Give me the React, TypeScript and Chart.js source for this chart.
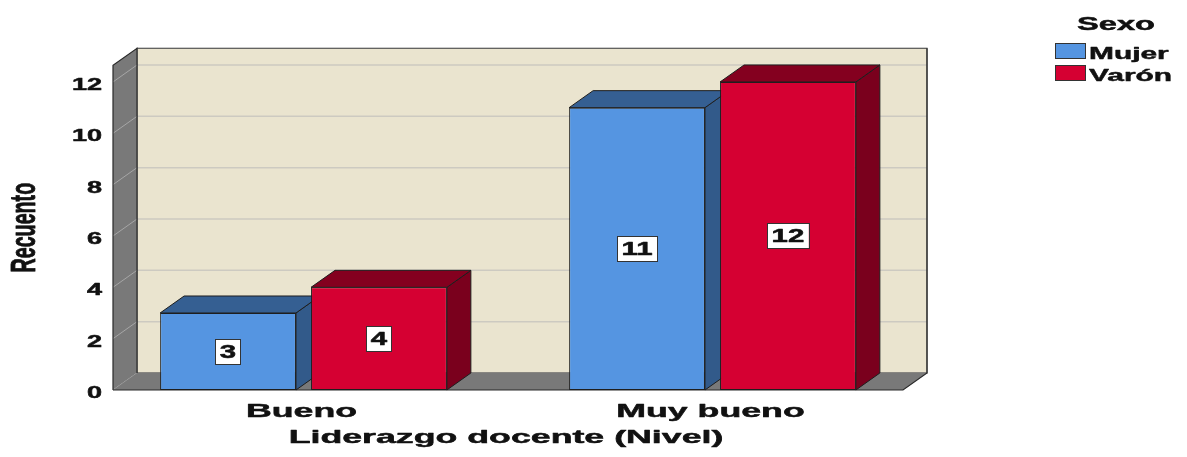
import React, { useEffect, useRef } from 'react';
import { Chart, registerables } from 'chart.js';

Chart.register(...registerables);

// ---- data ----
const categories = ['Bueno', 'Muy bueno'];
const seriesNames = ['Mujer', 'Varón'];
const mujerValues = [3, 11];
const varonValues = [4, 12];
const yTickStep = 2;
const yAxisMax = 12.65;
const xAxisTitle = 'Liderazgo docente (Nivel)';
const yAxisTitle = 'Recuento';
const legendTitle = 'Sexo';

// ---- styling ----
const FONT = '"Liberation Sans", Arial, sans-serif';
const DX = 24;
const DY = -17;
const INSET = 14;
const FRONT = ['#5595e1', '#d50032'];
const TOP = ['#355f92', '#84001f'];
const SIDE = ['#325a8a', '#7a001d'];
const EDGE = '#1e1e1e';
const TEXT = '#111111';

function stretchText(
  ctx: CanvasRenderingContext2D,
  text: string,
  x: number,
  y: number,
  size: number,
  sx: number,
  align: CanvasTextAlign,
  baseline: CanvasTextBaseline = 'alphabetic',
  rotate = false
) {
  ctx.save();
  ctx.translate(x, y);
  ctx.scale(sx, 1);
  if (rotate) ctx.rotate(-Math.PI / 2);
  ctx.font = `bold ${size}px ${FONT}`;
  ctx.fillStyle = TEXT;
  ctx.strokeStyle = TEXT;
  ctx.lineWidth = 0.5;
  ctx.lineJoin = 'round';
  ctx.textAlign = align;
  ctx.textBaseline = baseline;
  ctx.fillText(text, 0, 0);
  ctx.strokeText(text, 0, 0);
  ctx.restore();
}

function poly(ctx: CanvasRenderingContext2D, pts: number[][], fill: string, stroke: string | null) {
  ctx.beginPath();
  ctx.moveTo(pts[0][0], pts[0][1]);
  for (let i = 1; i < pts.length; i++) ctx.lineTo(pts[i][0], pts[i][1]);
  ctx.closePath();
  ctx.fillStyle = fill;
  ctx.fill();
  if (stroke) {
    ctx.strokeStyle = stroke;
    ctx.lineWidth = 1;
    ctx.stroke();
  }
}

const threeD = {
  id: 'threeD',
  beforeDatasetsDraw(chart: any) {
    const { ctx, chartArea: ca } = chart;
    const y = chart.scales.y;
    const L = ca.left + INSET;
    const R = ca.right - INSET;
    const B = y.getPixelForValue(0);
    const T = ca.top;
    ctx.save();
    // back wall
    poly(ctx, [[L + DX, T + DY], [R + DX, T + DY], [R + DX, B + DY], [L + DX, B + DY]], '#eae4cf', null);
    ctx.strokeStyle = '#cdcac1';
    ctx.lineWidth = 1.5;
    for (const t of y.ticks) {
      const yy = y.getPixelForValue(t.value);
      ctx.beginPath();
      ctx.moveTo(L + DX, yy + DY);
      ctx.lineTo(R + DX, yy + DY);
      ctx.stroke();
    }
    ctx.strokeStyle = '#555';
    ctx.lineWidth = 1.2;
    ctx.strokeRect(L + DX, T + DY, R - L, B - T);
    // left wall
    poly(ctx, [[L, B], [L, T], [L + DX, T + DY], [L + DX, B + DY]], '#797979', null);
    ctx.strokeStyle = '#a6a6a6';
    ctx.lineWidth = 1;
    for (const t of y.ticks) {
      const yy = y.getPixelForValue(t.value);
      ctx.beginPath();
      ctx.moveTo(L, yy);
      ctx.lineTo(L + DX, yy + DY);
      ctx.stroke();
    }
    // floor
    poly(ctx, [[L, B], [R, B], [R + DX, B + DY], [L + DX, B + DY]], '#797979', null);
    // outlines
    ctx.strokeStyle = '#2a2a2a';
    ctx.lineWidth = 1.2;
    ctx.beginPath();
    ctx.moveTo(L, B);
    ctx.lineTo(L, T);
    ctx.lineTo(L + DX, T + DY);
    ctx.lineTo(L + DX, B + DY);
    ctx.moveTo(L, B);
    ctx.lineTo(R, B);
    ctx.lineTo(R + DX, B + DY);
    ctx.lineTo(R + DX, T + DY);
    ctx.stroke();

    // 3D faces of bars (drawn before the fronts)
    const bars: any[] = [];
    chart.data.datasets.forEach((_: any, di: number) => {
      const meta = chart.getDatasetMeta(di);
      meta.data.forEach((el: any) => bars.push({ el, di }));
    });
    bars.sort((a, b) => a.el.x - b.el.x);
    for (const { el, di } of bars) {
      const p = el.getProps(['x', 'y', 'base', 'width'], true);
      const x0 = p.x - p.width / 2;
      const x1 = p.x + p.width / 2;
      const top = p.y;
      const base = p.base;
      poly(ctx, [[x1, top], [x1 + DX, top + DY], [x1 + DX, base + DY], [x1, base]], SIDE[di], EDGE);
      poly(ctx, [[x0, top], [x1, top], [x1 + DX, top + DY], [x0 + DX, top + DY]], TOP[di], EDGE);
    }
    ctx.restore();
  },
  afterDatasetsDraw(chart: any) {
    const { ctx } = chart;
    ctx.save();
    chart.data.datasets.forEach((ds: any, di: number) => {
      const meta = chart.getDatasetMeta(di);
      meta.data.forEach((el: any, i: number) => {
        const p = el.getProps(['x', 'y', 'base'], true);
        const label = String(ds.data[i]);
        const size = 17.5;
        const sx = 1.68;
        ctx.font = `bold ${size}px ${FONT}`;
        const w = ctx.measureText(label).width * sx + 9;
        const h = 25;
        const cx = p.x;
        const cy = (p.y + p.base) / 2;
        ctx.fillStyle = '#ffffff';
        ctx.fillRect(cx - w / 2, cy - h / 2, w, h);
        ctx.strokeStyle = '#333';
        ctx.lineWidth = 1;
        ctx.strokeRect(Math.round(cx - w / 2) + 0.5, Math.round(cy - h / 2) + 0.5, Math.round(w), h);
        stretchText(ctx, label, cx, cy + 6.5, size, sx, 'center');
      });
    });
    ctx.restore();
  },
  afterDraw(chart: any) {
    const { ctx, chartArea: ca } = chart;
    const x = chart.scales.x;
    const y = chart.scales.y;
    const L = ca.left + INSET;
    const B = y.getPixelForValue(0);
    // y tick labels
    for (const t of y.ticks) {
      const yy = y.getPixelForValue(t.value);
      stretchText(ctx, String(t.value), L - 11, yy + 8, 16.5, 1.64, 'right');
    }
    // category labels
    chart.data.labels.forEach((lab: string, i: number) => {
      stretchText(ctx, lab, x.getPixelForValue(i) - 2, B + 27, 19, 1.88, 'center');
    });
    // axis titles
    stretchText(ctx, xAxisTitle, (ca.left + ca.right) / 2 - 2, B + 53, 19, 1.88, 'center');
    stretchText(ctx, yAxisTitle, 25, (ca.top + B) / 2, 19.7, 1.77, 'center', 'middle', true);
    // legend
    stretchText(ctx, legendTitle, 1116, 30, 18, 1.81, 'center');
    chart.data.datasets.forEach((ds: any, di: number) => {
      const by = 43 + di * 22;
      ctx.fillStyle = ds.backgroundColor;
      ctx.fillRect(1055, by, 31, 16);
      ctx.strokeStyle = '#333';
      ctx.lineWidth = 1;
      ctx.strokeRect(1055.5, by + 0.5, 30, 15);
      stretchText(ctx, ds.label, 1089, by + 16, 16.8, 1.78, 'left');
    });
  },
};

export default function App() {
  const ref = useRef<HTMLCanvasElement>(null);
  useEffect(() => {
    document.body.style.margin = '0';
    if (!ref.current) return;
    const chart = new Chart(ref.current, {
      type: 'bar',
      data: {
        labels: categories,
        datasets: [
          {
            label: seriesNames[0],
            data: mujerValues,
            backgroundColor: FRONT[0],
            borderColor: EDGE,
            borderWidth: 1,
            borderSkipped: false,
            categoryPercentage: 0.738,
            barPercentage: 0.9,
          },
          {
            label: seriesNames[1],
            data: varonValues,
            backgroundColor: FRONT[1],
            borderColor: EDGE,
            borderWidth: 1,
            borderSkipped: false,
            categoryPercentage: 0.738,
            barPercentage: 0.9,
          },
        ],
      },
      options: {
        responsive: false,
        maintainAspectRatio: false,
        animation: false,
        events: [],
        layout: { padding: { left: 99, right: 270, top: 65.3, bottom: 67 } },
        plugins: { legend: { display: false }, title: { display: false }, tooltip: { enabled: false } },
        scales: {
          x: { display: false, offset: true, grid: { display: false } },
          y: {
            display: false,
            min: 0,
            max: yAxisMax,
            ticks: { stepSize: yTickStep, includeBounds: false },
            grid: { display: false },
          },
        },
      },
      plugins: [threeD],
    });
    return () => chart.destroy();
  }, []);
  return <canvas ref={ref} width={1187} height={457} style={{ display: 'block' }} />;
}
